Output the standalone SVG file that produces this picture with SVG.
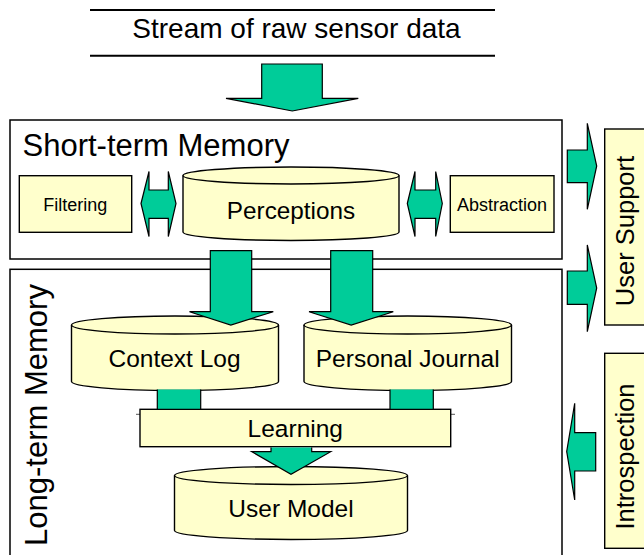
<svg xmlns="http://www.w3.org/2000/svg" width="644" height="555" viewBox="0 0 644 555">
<style>
text{font-family:"Liberation Sans",Arial,sans-serif;fill:#000}
.frame{fill:#fff;stroke:#000;stroke-width:1.5}
.node{fill:#ffffcc;stroke:#000;stroke-width:1.4}
.arr{fill:#00cc99;stroke:#000;stroke-width:1.2;stroke-linejoin:miter}
.mid{text-anchor:middle}
</style>
<rect width="644" height="555" fill="#fff"/>
<g id="source">
<line x1="90" y1="10" x2="495" y2="10" stroke="#000" stroke-width="2"/>
<line x1="90" y1="55.7" x2="495" y2="55.7" stroke="#000" stroke-width="2"/>
<text x="296.5" y="38" font-size="28" class="mid">Stream of raw sensor data</text>
</g>
<g id="short-term-memory">
<rect class="frame" x="10" y="120" width="552" height="139"/>
<text x="22.5" y="155.5" font-size="31">Short-term Memory</text>
</g>
<g id="long-term-memory">
<rect class="frame" x="10" y="269.3" width="552" height="300"/>
<text transform="translate(47,415) rotate(-90)" font-size="31" class="mid">Long-term Memory</text>
</g>
<g id="filtering">
<rect class="node" x="19.3" y="175.7" width="112.4" height="56.6"/>
<text x="75.3" y="211" font-size="18" class="mid">Filtering</text>
</g>
<g id="abstraction">
<rect class="node" x="450.3" y="175.7" width="103.7" height="56.6"/>
<text x="502" y="210.7" font-size="18" class="mid">Abstraction</text>
</g>
<g id="perceptions">
<path class="node" d="M183,175.5 L183,232 A108,8.5 0 0 0 399,232 L399,175.5 A108,8.5 0 0 0 183,175.5 Z"/>
<path d="M183,175.5 A108,8.5 0 0 0 399,175.5" fill="none" stroke="#000" stroke-width="1.4"/>
<text x="291" y="218.5" font-size="24.3" class="mid">Perceptions</text>
</g>
<g id="context-log">
<path class="node" d="M71.5,325 L71.5,381.5 A103.5,9 0 0 0 278.5,381.5 L278.5,325 A103.5,9 0 0 0 71.5,325 Z"/>
<path d="M71.5,325 A103.5,9 0 0 0 278.5,325" fill="none" stroke="#000" stroke-width="1.4"/>
<text x="174.5" y="366.7" font-size="24.5" class="mid">Context Log</text>
</g>
<g id="personal-journal">
<path class="node" d="M304,325 L304,381.5 A103.75,9 0 0 0 511.5,381.5 L511.5,325 A103.75,9 0 0 0 304,325 Z"/>
<path d="M304,325 A103.75,9 0 0 0 511.5,325" fill="none" stroke="#000" stroke-width="1.4"/>
<text x="407.7" y="366.7" font-size="24.5" class="mid">Personal Journal</text>
</g>
<g id="user-model">
<path class="node" d="M174.5,475.5 L174.5,530.5 A116.5,9 0 0 0 407.5,530.5 L407.5,475.5 A116.5,9 0 0 0 174.5,475.5 Z"/>
<path d="M174.5,475.5 A116.5,9 0 0 0 407.5,475.5" fill="none" stroke="#000" stroke-width="1.4"/>
<text x="291" y="516.7" font-size="24.5" class="mid">User Model</text>
</g>
<g id="learning">
<line x1="136" y1="414.3" x2="455" y2="414.3" stroke="#555" stroke-width="1"/>
<rect class="node" x="140" y="409.3" width="310.7" height="37.4"/>
<text x="295.3" y="437.2" font-size="24.5" class="mid">Learning</text>
</g>
<g id="user-support">
<rect class="node" x="604.7" y="129" width="50" height="196"/>
<text transform="translate(634,231) rotate(-90)" font-size="25.5" class="mid">User Support</text>
</g>
<g id="introspection">
<rect class="node" x="604.7" y="353.3" width="50" height="195"/>
<text transform="translate(634,456.5) rotate(-90)" font-size="25.5" class="mid">Introspection</text>
</g>
<g id="connectors">
<polygon class="arr" points="261.7,64 322.3,64 322.3,98.3 358.3,98.3 292.3,111 226,98.3 261.7,98.3"/>
<polygon class="arr" points="141,203.5 149,171.5 149,190 168.3,190 168.3,171.5 176,203.5 168.3,236.5 168.3,218.3 149,218.3 149,236.5"/>
<polygon class="arr" points="407.3,203.5 415,171.5 415,190 435.7,190 435.7,171.5 442.3,203.5 435.7,236.5 435.7,218.3 415,218.3 415,236.5"/>
<polygon class="arr" points="210.3,250.7 251.7,250.7 251.7,311.7 273.3,311.7 230.8,325 189.5,311.7 210.3,311.7"/>
<polygon class="arr" points="330.7,250.7 372.7,250.7 372.7,311.7 393.3,311.7 351.2,325 309,311.7 330.7,311.7"/>
<path class="arr" d="M157.3,389.6 L157.3,409.3 L200.7,409.3 L200.7,389.6"/>
<path class="arr" d="M390,389.6 L390,409.3 L433.3,409.3 L433.3,389.6"/>
<path class="arr" d="M271,447.4 L271,451.7 L251.7,451.7 L291,474.3 L330.7,451.7 L311.7,451.7 L311.7,447.4"/>
<polygon class="arr" points="567.3,150 587.3,150 587.3,123.3 596.7,166 587.3,209.3 587.3,182.7 567.3,182.7"/>
<polygon class="arr" points="567.3,271 587.3,271 587.3,245 596.7,288 587.3,331.7 587.3,304.3 567.3,304.3"/>
<polygon class="arr" points="595.7,432.7 574.7,432.7 574.7,403.3 566.7,451.5 574.7,500 574.7,471 595.7,471"/>
</g>
</svg>
